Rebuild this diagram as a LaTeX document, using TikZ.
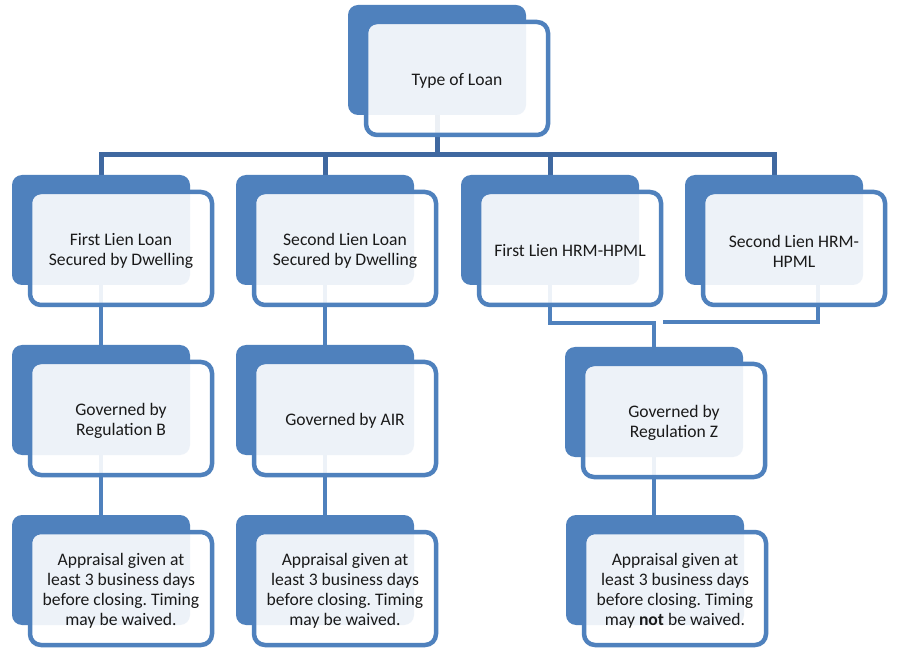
\documentclass[tikz,border=0pt]{standalone}
\usepackage{fontspec}
\setmainfont{Carlito}
\frenchspacing
\pgfdeclarelayer{bg}
\pgfsetlayers{bg,main}
\definecolor{boxblue}{HTML}{4F81BD}
\definecolor{busblue}{HTML}{3F68A0}
\definecolor{txt}{HTML}{1A1A1A}
\tikzset{
  backbox/.style={fill=boxblue, draw=none, rounded corners=10pt, minimum width=178pt, minimum height=110pt, inner sep=0pt},
  frontbox/.style={draw=boxblue, line width=4.5pt, fill=white, fill opacity=0.9, rounded corners=11pt,
    minimum width=182pt, minimum height=113pt, inner sep=0pt},
  boxtext/.style={inner sep=0pt, align=center, text=txt, font=\fontsize{17.6}{20}\selectfont},
  conn/.style={draw=boxblue, line width=4.5pt},
  bus/.style={draw=busblue, line width=5pt},
}
\newcommand\loanbox[4]{%
  \node[backbox] (#1b) at (#2+89,#3+55) {};
  \node[frontbox] (#1) at (#2+109,#3+73.5) {};
  \node[boxtext] (#1t) at (#2+109,#3+76) {#4};}
\begin{document}
\begin{tikzpicture}[x=1pt,y=-1pt]
\useasboundingbox (0,0) rectangle (900,660);
\loanbox{top}{348}{5}{Type of Loan}
\loanbox{ra}{12}{175}{First Lien Loan\\Secured by Dwelling}
\loanbox{rb}{236}{175}{Second Lien Loan\\Secured by Dwelling}
\loanbox{rc}{461}{175}{First Lien HRM-HPML}
\loanbox{rd}{685}{175}{Second Lien HRM-\\HPML}
\loanbox{ga}{12}{345}{Governed by\\Regulation B}
\loanbox{gb}{236}{345}{Governed by AIR}
\loanbox{gc}{565}{347}{Governed by\\Regulation Z}
\loanbox{aa}{12}{515}{Appraisal given at\\least 3 business days\\before closing. Timing\\may be waived.}
\loanbox{ab}{236}{515}{Appraisal given at\\least 3 business days\\before closing. Timing\\may be waived.}
\loanbox{ac}{566}{515}{Appraisal given at\\least 3 business days\\before closing. Timing\\may \textbf{not} be waived.}
\coordinate (busy) at (0,155);
\coordinate (hy) at (0,323);
\coordinate (hr) at (818,322);
\coordinate (hl) at (663,322);
\begin{pgfonlayer}{bg}
  \fill[white] (0,0) rectangle (900,660);
  \draw[bus] (topb.south) -- (topb.south |- busy);
  \draw[bus] (rab.north) -- (rab.north |- busy) -- (rdb.north |- busy) -- (rdb.north);
  \draw[bus] (rbb.north) -- (rbb.north |- busy);
  \draw[bus] (rcb.north) -- (rcb.north |- busy);
  \draw[conn] (rab.south) -- (gab.north);
  \draw[conn] (rbb.south) -- (gbb.north);
  \draw[conn] (rcb.south) -- (rcb.south |- hy) -- (gcb.north |- hy) -- (gcb.north);
  \draw[conn] (rdb.south -| hr) -- (hr) -- (hl);
  \draw[conn] (gab.south) -- (aab.north);
  \draw[conn] (gbb.south) -- (abb.north);
  \draw[conn] (gcb.south) -- (acb.north -| gcb.south);
\end{pgfonlayer}
\end{tikzpicture}
\end{document}
